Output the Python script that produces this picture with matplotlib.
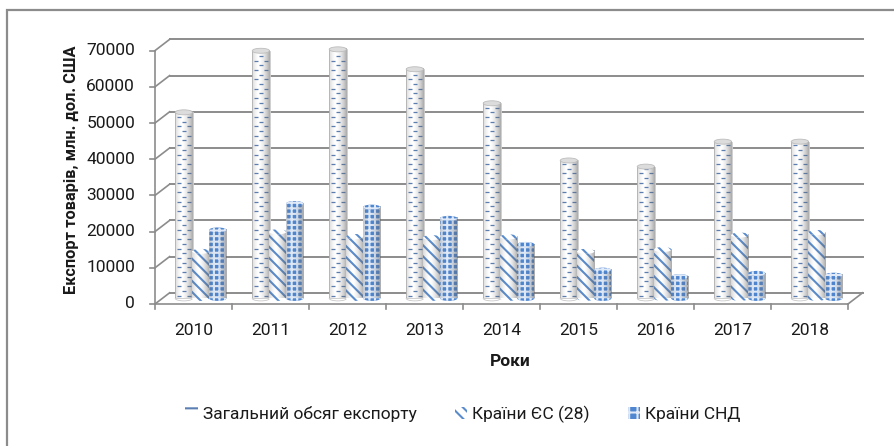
import numpy as np
import matplotlib
matplotlib.use('Agg')
import matplotlib.pyplot as plt
from matplotlib.patches import Ellipse, Rectangle, Patch

# data (млн. дол. США)
years = ['2010', '2011', '2012', '2013', '2014', '2015', '2016', '2017', '2018']
total_export = [51400, 68400, 68800, 63300, 53900, 38100, 36400, 43300, 43300]
eu_export = [13000, 18400, 17100, 16800, 17000, 13000, 13500, 17500, 18200]
cis_export = [18900, 26200, 25200, 22100, 14900, 7800, 6000, 6900, 6400]
y_ticks = [0, 10000, 20000, 30000, 40000, 50000, 60000, 70000]

series_names = ['Загальний обсяг експорту', 'Країни ЄС (28)', 'Країни СНД']

plt.rcParams['font.family'] = ['Roboto', 'DejaVu Sans']
plt.rcParams['hatch.linewidth'] = 1.5

# pixel geometry of the pseudo-3D plot
W, H = 894, 446
PX_CAT = 77.0            # pixels per category
PX_VAL = 36.2 / 10000    # pixels per value unit
X0_PX, Y0_PX = 155, 304  # front axis origin in pixels (from top-left)
DX, DY = 0.19, 3100      # depth offset of the back wall (data units)
GRID_C = '#8c8c8c'
TEXT_C = '#1a1a1a'
FS = 12.5


def cylinder_shade(ax, x0, x1, y0, y1, z):
    """Grey horizontal gradient to fake a cylinder surface."""
    t = np.linspace(0, 1, 40)
    alpha = 0.55 * (np.abs(t - 0.38) / 0.62) ** 1.6
    img = np.zeros((1, len(t), 4))
    img[..., :3] = 0.4
    img[..., 3] = alpha
    ax.imshow(img, extent=[x0, x1, y0, y1], aspect='auto',
              interpolation='bilinear', zorder=z)


def main():
    n = len(years)
    fig = plt.figure(figsize=(W / 100, H / 100), dpi=100)
    ax = fig.add_axes([0, 0, 1, 1])

    # outer chart border (cut off on the right and bottom like the original)
    fig.add_artist(Rectangle((7 / W, -0.1), 1.1, (H - 10) / H + 0.1,
                             transform=fig.transFigure, fill=False,
                             ec='#8c8c8c', lw=1.6))

    # walls, floor, axis
    for v in y_ticks:
        ax.plot([DX, n + DX], [v + DY, v + DY], color=GRID_C, lw=1.4, zorder=1)
        ax.plot([0, DX], [v, v + DY], color=GRID_C, lw=1.2, zorder=1)
        ax.plot([-0.065, 0], [v, v], color=GRID_C, lw=1.2, zorder=1)
        ax.text(-0.26, v, f'{v}', ha='right', va='center', fontsize=FS,
                color=TEXT_C)
    ax.plot([0, 0], [0, y_ticks[-1]], color=GRID_C, lw=1.2, zorder=1)
    ax.plot([0, n], [0, 0], color=GRID_C, lw=1.2, zorder=1)
    ax.plot([n, n + DX], [0, DY], color=GRID_C, lw=1.2, zorder=1)
    for i in range(n + 1):
        ax.plot([i, i], [0, -1300], color=GRID_C, lw=1.2, zorder=1)
    for i, y in enumerate(years):
        ax.text(i + 0.5, -7400, y, ha='center', va='center', fontsize=FS,
                color=TEXT_C)

    # cylinders
    bar_w = 0.225
    base = DY / 2
    cap_h = 5 / PX_VAL
    styles = [
        dict(facecolor='white', edgecolor='#c8c8c8', hatch=None, lw=0.6),
        dict(facecolor='white', edgecolor='#5a8ccc', hatch='\\\\\\', lw=0),
        dict(facecolor='#4f86d0', edgecolor='#dfe9f7', hatch='+++', lw=0),
    ]
    offsets = [-0.22, 0.0, 0.22]
    data = [total_export, eu_export, cis_export]

    for k, (vals, st, off) in enumerate(zip(data, styles, offsets)):
        xs = np.arange(n) + 0.5 + off + DX / 2
        z = 3 + k
        for x, v in zip(xs, vals):
            ax.add_patch(Ellipse((x, base), bar_w, cap_h, facecolor=st['facecolor'],
                                 edgecolor=st['edgecolor'], hatch=st['hatch'],
                                 lw=st['lw'], zorder=z))
        ax.bar(xs, vals, width=bar_w, bottom=base, facecolor=st['facecolor'],
               edgecolor=st['edgecolor'], hatch=st['hatch'], lw=st['lw'],
               zorder=z + 0.1)
        for x, v in zip(xs, vals):
            cylinder_shade(ax, x - bar_w / 2, x + bar_w / 2, base, base + v, z + 0.2)
            if k == 0:
                cap = dict(facecolor='#dcdcdc', edgecolor='#bdbdbd', lw=0.6)
            else:
                cap = dict(facecolor=st['facecolor'], edgecolor=st['edgecolor'],
                           hatch=st['hatch'], lw=0)
            ax.add_patch(Ellipse((x, base + v), bar_w, cap_h, zorder=z + 0.3, **cap))

        if k == 0:
            # dashed texture of the total-export cylinders
            px = []
            py = []
            step = 4.7 / PX_VAL
            dx_dash = 5.0 / PX_CAT
            for x, v in zip(xs, vals):
                rows = np.arange(base + step * 0.6, base + v - step * 0.4, step)
                for j, yy in enumerate(rows):
                    cols = [x - dx_dash, x + dx_dash] if j % 2 == 0 else [x]
                    for c in cols:
                        px.append(c)
                        py.append(yy)
            ax.plot(px, py, linestyle='none', marker='_', markersize=3,
                    mew=0.9, color='#5b7fb3', zorder=z + 0.15)

    # axis titles
    ax.text(-1.08, 37000, 'Експорт товарів, млн. дол. США', rotation=90,
            ha='center', va='center', fontsize=11.8, fontweight='bold',
            color=TEXT_C)
    ax.text(4.62, -16000, 'Роки', ha='center', va='center', fontsize=FS,
            fontweight='bold', color=TEXT_C)

    ax.set_xlim(-X0_PX / PX_CAT, (W - X0_PX) / PX_CAT)
    ax.set_ylim(-(H - Y0_PX) / PX_VAL, Y0_PX / PX_VAL)
    ax.axis('off')

    # legend
    handles = [
        Patch(facecolor='white', edgecolor='#5b7fb3', hatch='-', lw=0),
        Patch(facecolor='white', edgecolor='#5a8ccc', hatch='\\\\\\', lw=0),
        Patch(facecolor='#4f86d0', edgecolor='#dfe9f7', hatch='++', lw=0),
    ]
    fig.legend(handles, series_names, loc='center', bbox_to_anchor=(0.518, 0.072),
               ncol=3, frameon=False, fontsize=FS, handlelength=0.7,
               handleheight=0.7, handletextpad=0.3, columnspacing=2.2,
               labelcolor=TEXT_C)

    fig.savefig('out.png', dpi=100)
    plt.close(fig)


if __name__ == '__main__':
    main()
